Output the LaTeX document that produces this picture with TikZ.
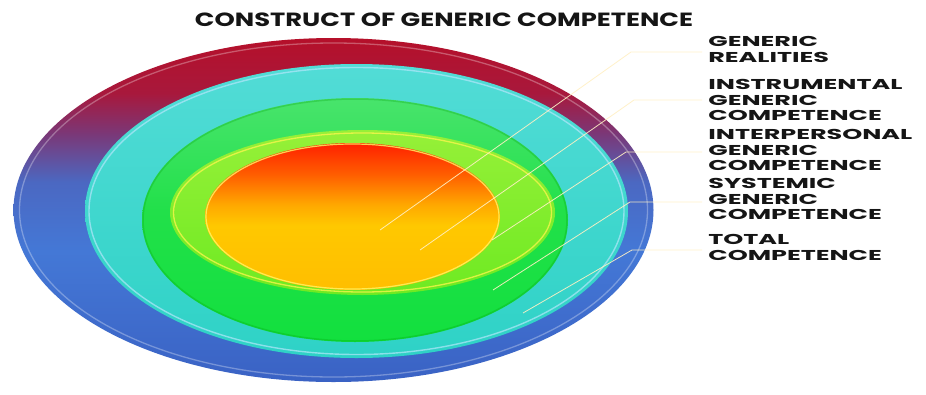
\documentclass[tikz,border=0pt]{standalone}
\usepackage{fontspec}
\setmainfont{Poppins}
\usepackage{graphicx}
\definecolor{oR1}{HTML}{B5102A}
\definecolor{oR2}{HTML}{A8183C}
\definecolor{oP}{HTML}{7A3878}
\definecolor{oB1}{HTML}{4B68C2}
\definecolor{oB2}{HTML}{4478D6}
\definecolor{oB3}{HTML}{3A62C4}
\definecolor{cT}{HTML}{52DCD6}
\definecolor{cB}{HTML}{2ED2C6}
\definecolor{gT}{HTML}{48E46C}
\definecolor{gM}{HTML}{22E04A}
\definecolor{gB}{HTML}{12E03E}
\definecolor{lT}{HTML}{96F038}
\definecolor{lB}{HTML}{6EEA22}
\definecolor{r1}{HTML}{FF2000}
\definecolor{r2}{HTML}{FF6000}
\definecolor{r3}{HTML}{FFA800}
\definecolor{r4}{HTML}{FFC800}
\definecolor{r5}{HTML}{FFBE00}
\definecolor{leader}{HTML}{FFF0C4}
\definecolor{txt}{HTML}{151515}
\pgfdeclareverticalshading{outerS}{100bp}{color(0bp)=(oB3); color(25bp)=(oB3); color(44bp)=(oB2); color(54bp)=(oB1); color(61bp)=(oP); color(67bp)=(oR2); color(75bp)=(oR1); color(100bp)=(oR1)}
\pgfdeclareverticalshading{cyanS}{100bp}{color(0bp)=(cB); color(25bp)=(cB); color(75bp)=(cT); color(100bp)=(cT)}
\pgfdeclareverticalshading{greenS}{100bp}{color(0bp)=(gB); color(25bp)=(gB); color(52bp)=(gM); color(75bp)=(gT); color(100bp)=(gT)}
\pgfdeclareverticalshading{limeS}{100bp}{color(0bp)=(lB); color(25bp)=(lB); color(75bp)=(lT); color(100bp)=(lT)}
\pgfdeclareverticalshading{coreS}{100bp}{color(0bp)=(r5); color(25bp)=(r5); color(47bp)=(r4); color(54bp)=(r3); color(64bp)=(r2); color(75bp)=(r1); color(100bp)=(r1)}
\tikzset{
  lbl/.style={anchor=west, inner sep=0pt, align=left, text=txt,
    font=\fontsize{14.3}{15.3}\selectfont\bfseries, xscale=1.78},
  leaderline/.style={draw=leader, line width=0.8pt, opacity=0.9, shorten >=6pt},
}
\begin{document}
\begin{tikzpicture}[x=1pt, y=-1pt]
\useasboundingbox (0,0) rectangle (926,394);
\fill[white] (0,0) rectangle (926,394);
% title
\node[inner sep=0pt, text=txt] (title) at (444,20)
  {\resizebox{498pt}{13.6pt}{\bfseries CONSTRUCT OF GENERIC COMPETENCE}};
% rings
\shade[shading=outerS] (333.5,210) ellipse [x radius=320, y radius=172];
\draw[white, opacity=.3, line width=1.3pt] (333.5,210) ellipse [x radius=314, y radius=167];
\shade[shading=cyanS] (356.5,211) ellipse [x radius=271.5, y radius=147];
\draw[cyan!30!white, opacity=.7, line width=1.4pt] (356.5,211) ellipse [x radius=267.5, y radius=143.5];
\shade[shading=greenS] (355,220) ellipse [x radius=213, y radius=122];
\draw[green!60!black, opacity=.25, line width=1.5pt] (355,220) ellipse [x radius=212, y radius=121];
\shade[shading=limeS] (362.5,212.5) ellipse [x radius=192.5, y radius=82.5];
\draw[yellow!70!white, opacity=.75, line width=1.3pt] (362.5,212.5) ellipse [x radius=189, y radius=79.5];
\shade[shading=coreS] (352.5,216.5) ellipse [x radius=147.5, y radius=73.5];
\draw[yellow!60!white, opacity=.8, line width=1.2pt] (352.5,216.5) ellipse [x radius=146.5, y radius=72.5];
% labels
\node[lbl] (l1) at (708,49.5) {GENERIC\\REALITIES};
\node[lbl] (l2) at (708,100) {INSTRUMENTAL\\GENERIC\\COMPETENCE};
\node[lbl] (l3) at (708,150) {INTERPERSONAL\\GENERIC\\COMPETENCE};
\node[lbl] (l4) at (708,199) {SYSTEMIC\\GENERIC\\COMPETENCE};
\node[lbl] (l5) at (708,247.5) {TOTAL\\COMPETENCE};
% leader points
\coordinate (p1) at (380,230); \coordinate (k1) at (631,52);
\coordinate (p2) at (420,250); \coordinate (k2) at (634,100);
\coordinate (p3) at (492,240); \coordinate (k3) at (626,152);
\coordinate (p4) at (493,290); \coordinate (k4) at (630,202);
\coordinate (p5) at (523,313); \coordinate (k5) at (632,250);
\draw[leaderline] (p1) -- (k1) -- (k1 -| l1.west);
\draw[leaderline] (p2) -- (k2) -- (k2 -| l2.west);
\draw[leaderline] (p3) -- (k3) -- (k3 -| l3.west);
\draw[leaderline] (p4) -- (k4) -- (k4 -| l4.west);
\draw[leaderline] (p5) -- (k5) -- (k5 -| l5.west);
\end{tikzpicture}
\end{document}
